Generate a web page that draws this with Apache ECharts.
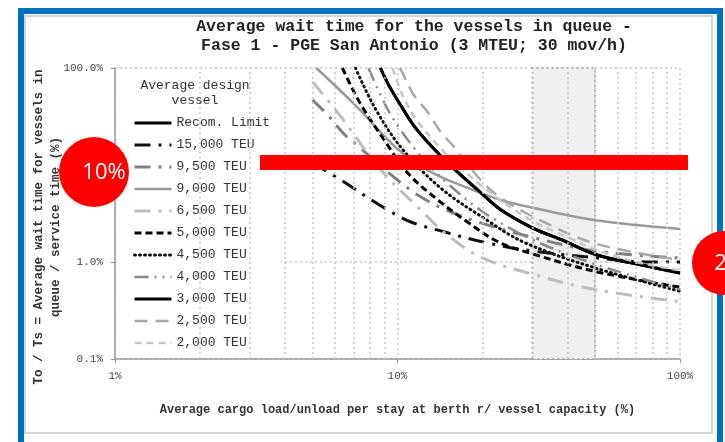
<!DOCTYPE html>
<html><head><meta charset="utf-8">
<script src="https://cdn.jsdelivr.net/npm/echarts@6/dist/echarts.min.js"></script>
<style>html,body{margin:0;padding:0;background:#fff}#c{width:725px;height:442px}</style>
</head><body><div id="c"></div>
<script>
// ---- data (x = cargo load/unload % of vessel capacity, y = To/Ts %) ----
const seriesNames = ['Recom. Limit','15,000 TEU','9,500 TEU','9,000 TEU','6,500 TEU','5,000 TEU','4,500 TEU','4,000 TEU','3,000 TEU','2,500 TEU','2,000 TEU'];
const recomLimit = [[8.7,100],[9.3,67],[10.2,42.5],[11.6,24],[14,13],[16.3,8.5],[19.7,5.2],[23.2,3.45],[30,2.25],[38,1.7],[51,1.18],[73,0.93],[100,0.77]];
const teu15000 = [[5,10.5],[6.3,7.0],[8.6,3.9],[11.1,2.6],[14.6,2.05],[20.8,1.57],[30,1.3],[51,1.1],[79,1.0],[100,1.0]];
const teu9500 = [[5,47],[5.65,33],[6.45,21],[7.2,16],[9,9],[11.8,4.9],[15,3.4],[20,2.5],[30,1.8],[50,1.3],[100,1.1]];
const teu9000 = [[5.16,100],[7.2,39.6],[10,14.6],[13.1,8.5],[17.7,5.8],[23.2,4.36],[30.4,3.6],[49.5,2.71],[100,2.19]];
const teu6500 = [[5,72],[5.65,47],[6.5,28],[8.7,9],[12,3.5],[15,1.9],[20,1.1],[30,0.75],[50,0.52],[100,0.39]];
const teu5000 = [[6.38,100],[7.4,42.5],[9.07,17.3],[10.85,8.3],[13.9,4.36],[17.7,2.58],[22.8,1.6],[30.4,1.2],[50,0.8],[100,0.55]];
const teu4500 = [[7.1,100],[8.36,37.8],[10.4,14.6],[14.2,5.8],[20.2,2.84],[28,1.6],[50,0.87],[100,0.5]];
const teu4000 = [[7.89,100],[9.22,37.8],[10.5,20.9],[12.5,11],[15,6.5],[20,3.3],[30,1.7],[50,0.95],[100,0.52]];
const teu3000 = [[8.7,100],[9.3,67],[10.2,42.5],[11.6,24],[14,13],[16.3,8.5],[19.7,5.2],[23.2,3.45],[30,2.25],[38,1.7],[51,1.18],[73,0.93],[100,0.77]];
const teu2500 = [[10.2,100],[10.5,85],[11.4,53],[12.8,35],[14.2,22],[16.1,14.6],[19.7,7],[23.2,4.6],[30.4,2.9],[50,1.55],[100,1.05]];
const teu2000 = [[9.6,100],[10.5,50],[11.8,28],[14.5,14],[17,9],[20,6],[25,3.7],[30.4,2.6],[40,1.8],[50,1.35],[70,1.0],[100,0.82]];
const xMinorGrid = [2,3,4,5,6,7,8,9,20,30,40,50,60,70,80,90];
const shadedRange = [30,50];
const xMin = 1, xMax = 100, yMin = 0.1, yMax = 100;
// ---------------------------------------------------------------------

const seriesData = [recomLimit,teu15000,teu9500,teu9000,teu6500,teu5000,teu4500,teu4000,teu3000,teu2500,teu2000];
const styles = [
  {color:'#000', width:3, type:'solid'},
  {color:'#111', width:3, type:[16,8,3,8]},
  {color:'#808080', width:3, type:[16,8,3,8]},
  {color:'#9a9a9a', width:2.5, type:'solid'},
  {color:'#bdbdbd', width:3, type:[16,8,3,8]},
  {color:'#000', width:3, type:[7,4]},
  {color:'#111', width:3, type:[1,4], cap:'round'},
  {color:'#8a8a8a', width:2.5, type:[14,6,2,6,2,6]},
  {color:'#000', width:3, type:'solid'},
  {color:'#a8a8a8', width:2.5, type:[13,8]},
  {color:'#c6c6c6', width:2.5, type:[7,5]}
];
const mono = 'Liberation Mono';
const series = seriesNames.map((n,i)=>({
  name:n, type:'line', data:seriesData[i], symbol:'none', showSymbol:false, smooth:0.35,
  lineStyle:{color:styles[i].color, width:styles[i].width, type:styles[i].type, cap:styles[i].cap||'butt'},
  itemStyle:{color:styles[i].color}, z:3, silent:true
}));
series.unshift({
  name:'grid', type:'line', data:[], z:1, silent:true,
  markArea:{silent:true, itemStyle:{color:'#f0f0f0', borderColor:'#9a9a9a', borderWidth:1.5, borderType:[2,3]},
    data:[[{xAxis:shadedRange[0], yAxis:yMin},{xAxis:shadedRange[1], yAxis:yMax}]]},
  markLine:{silent:true, symbol:'none', label:{show:false},
    lineStyle:{color:'#c8c8c8', width:1.5, type:[2,3]},
    data:xMinorGrid.map(v=>({xAxis:v}))}
});

const chart = echarts.init(document.getElementById('c'), null, {renderer:'canvas'});
chart.setOption({
  backgroundColor:'#fff',
  animation:false,
  grid:{left:115, right:45, top:68, bottom:83},
  xAxis:{type:'log', logBase:10, min:xMin, max:xMax,
    axisLine:{lineStyle:{color:'#999', width:1.5}},
    axisTick:{show:true, length:4, lineStyle:{color:'#999'}},
    splitLine:{show:true, lineStyle:{color:'#c8c8c8', width:1.5, type:[2,3]}},
    axisLabel:{formatter:v=>Math.round(v)+'%', fontFamily:mono, fontSize:11, color:'#444', margin:12},
    name:'Average cargo load/unload per stay at berth r/ vessel capacity (%)',
    nameLocation:'middle', nameGap:45,
    nameTextStyle:{fontFamily:mono, fontSize:12, fontWeight:'bold', color:'#333'}
  },
  yAxis:{type:'log', logBase:10, min:yMin, max:yMax,
    axisLine:{show:true, lineStyle:{color:'#999', width:1.5}},
    axisTick:{show:true, length:4, lineStyle:{color:'#999'}},
    splitLine:{show:true, lineStyle:{color:'#c8c8c8', width:1.5, type:[2,3]}},
    axisLabel:{formatter:v=>Number(v).toFixed(1)+'%', fontFamily:mono, fontSize:11, color:'#444', margin:12}
  },
  legend:{orient:'vertical', left:117, top:70, padding:[46,11,6,16],
    itemWidth:37, itemHeight:14, itemGap:8, backgroundColor:'#fff', z:5,
    selectedMode:false, data:seriesNames,
    lineStyle:{width:'inherit'},
    itemStyle:{color:'rgba(0,0,0,0)', borderWidth:0, opacity:0},
    textStyle:{fontFamily:mono, fontSize:13, color:'#333', lineHeight:14}
  },
  series:series,
  graphic:[
    {type:'text', z:20, x:414, y:36.5, style:{text:'Average wait time for the vessels in queue -\nFase 1 - PGE San Antonio (3 MTEU; 30 mov/h)', align:'center', verticalAlign:'middle', fontFamily:mono, fontSize:16.5, fontWeight:'bold', lineHeight:19, fill:'#222'}},
    {type:'text', z:20, x:195, y:93.5, style:{text:'Average design\nvessel', align:'center', verticalAlign:'middle', fontFamily:mono, fontSize:13, lineHeight:15, fill:'#333'}},
    {type:'text', z:20, x:47, y:227, rotation:Math.PI/2, style:{text:'To / Ts = Average wait time for vessels in\nqueue / service time (%)', align:'center', verticalAlign:'middle', fontFamily:mono, fontSize:12.5, fontWeight:'bold', lineHeight:17, fill:'#333'}},
    {type:'rect', z:30, shape:{x:25, y:16, width:687, height:417}, style:{fill:'none', stroke:'#d4d4d4', lineWidth:2}},
    {type:'rect', z:31, shape:{x:21, y:11, width:699, height:440}, style:{fill:'none', stroke:'#0070c0', lineWidth:6}},
    {type:'rect', z:40, shape:{x:260, y:155, width:428, height:15}, style:{fill:'#ff0000'}},
    {type:'circle', z:40, shape:{cx:94, cy:172, r:35}, style:{fill:'#ff0000'}},
    {type:'text', z:41, x:104, y:173, style:{text:'10%', align:'center', verticalAlign:'middle', fontFamily:'Open Sans', fontSize:22, fill:'#fff'}},
    {type:'circle', z:40, shape:{cx:724, cy:263, r:32}, style:{fill:'#ff0000'}},
    {type:'text', z:41, x:736, y:264, style:{text:'20%', align:'center', verticalAlign:'middle', fontFamily:'Open Sans', fontSize:22, fill:'#fff'}}
  ]
});
</script></body></html>
